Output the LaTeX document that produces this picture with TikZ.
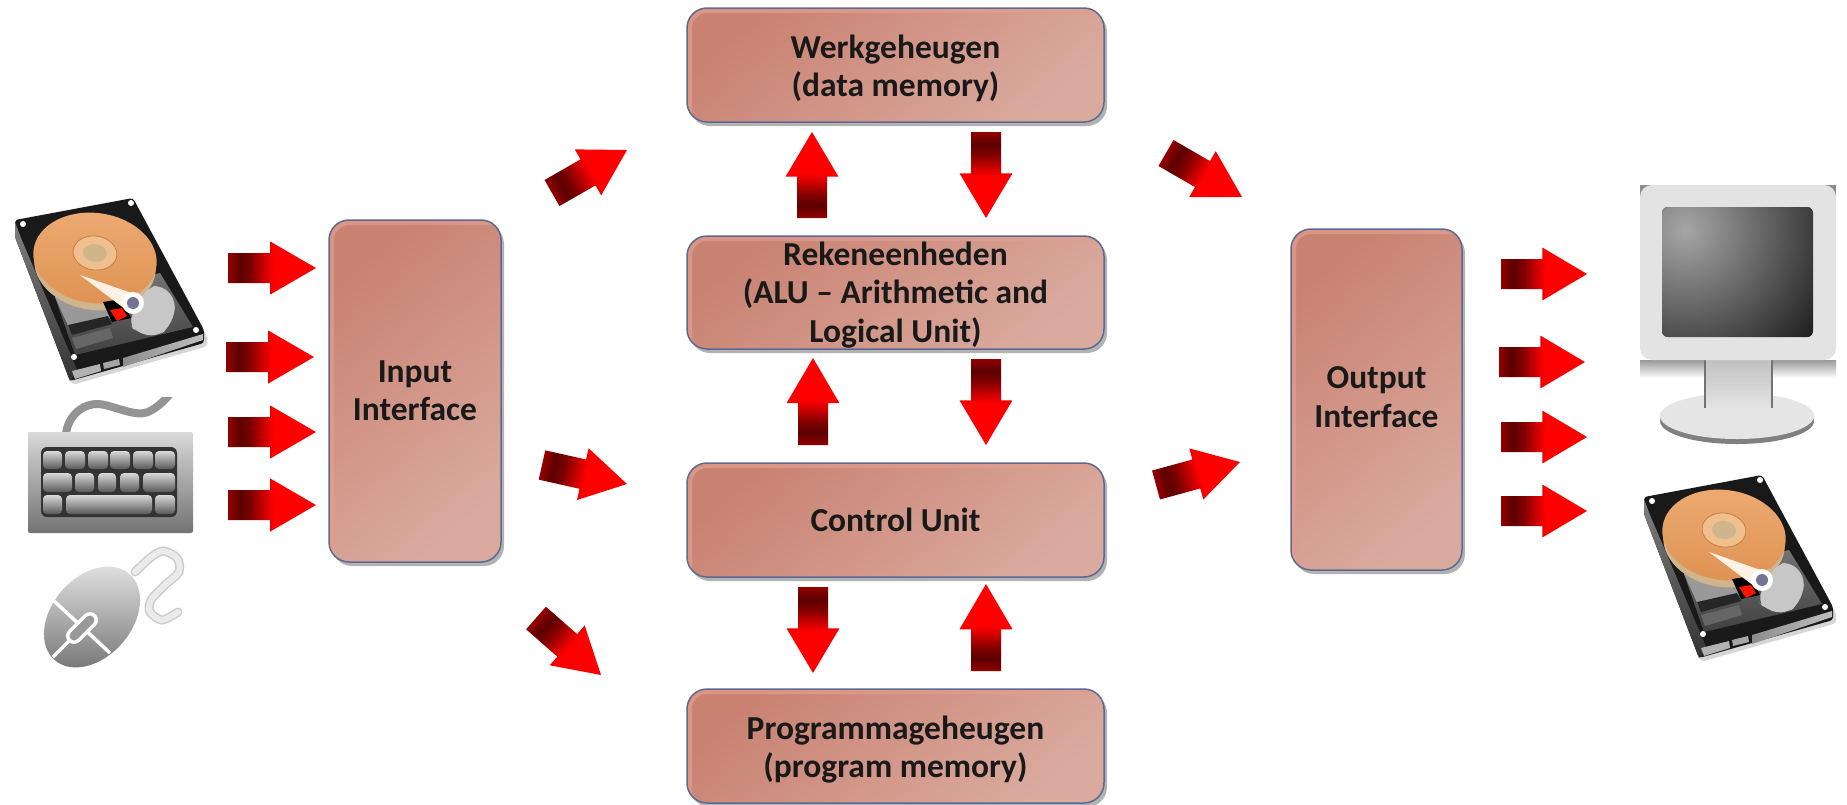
\documentclass[tikz,border=0pt]{standalone}
\usepackage{fontspec}
\setmainfont{Carlito}
\usetikzlibrary{shadows,calc}
\definecolor{boxA}{HTML}{C98272}
\definecolor{boxM}{HTML}{CD8D7D}
\definecolor{boxB}{HTML}{DAAA9E}
\definecolor{boxE}{HTML}{5C6A92}
\definecolor{rim}{HTML}{E29E8E}
\definecolor{platA}{HTML}{EDAA72}
\definecolor{platB}{HTML}{DE9252}
\definecolor{spinA}{HTML}{EFC08E}
\definecolor{spinB}{HTML}{CFB48C}
\definecolor{spinE}{HTML}{C87C40}
\pgfdeclarehorizontalshading{arrowgrad}{100bp}{color(0bp)=(red!58!black); color(25bp)=(red!58!black); color(32bp)=(red!36!black); color(38bp)=(red!50!black); color(46bp)=(red!82!black); color(51bp)=(red); color(100bp)=(red)}
\newcommand{\redarrow}[4]{%
  \pgfmathsetmacro{\arAng}{atan2(-(#4-#2),#3-#1)}%
  \pgfmathsetmacro{\arLen}{veclen(#3-#1,#4-#2)}%
  \pgfmathsetmacro{\arNeck}{\arLen*0.48}%
  \begin{scope}[transform canvas={shift={(#1,#2)},rotate=\arAng}]
    \shade[shading=arrowgrad] (0,-15)--(\arNeck,-15)--(\arNeck,-26.5)--(\arLen,0)--(\arNeck,26.5)--(\arNeck,15)--(0,15)--cycle;
  \end{scope}}
\newcommand{\hdd}[2]{%
  \begin{scope}[shift={(#1,#2)}]
    \fill[black!45,opacity=.35,rounded corners=4] (17,240)--(72,385)--(208,346)--(206,332)--cycle;
    \fill[black!90,rounded corners=3] (15,220)--(133,198)--(204,330)--(204,343)--(70,381)--(15,237)--cycle;
    \shade[top color=black!50,bottom color=black!80] (15,222)--(21,238)--(78,372)--(70,381)--(15,237)--cycle;
    \shade[top color=black!55,bottom color=black!75] (55,297)--(160,273)--(193,327)--(75,355)--cycle;
    \fill[black!40] (55,297)--(100,290)--(110,318)--(70,330)--cycle;
    \fill[black!85] (68,325)--(108,316)--(112,324)--(72,335)--cycle;
    \fill[black!60] (72,338)--(110,328)--(113,338)--(76,349)--cycle;
    \fill[black!30] (72,371)--(100,364)--(101,371)--(75,379)--cycle;
    \fill[black!35] (103,363)--(119,359)--(120,365)--(104,369)--cycle;
    \shade[left color=black!45,right color=black!25] (123,358)--(203,334)--(203,340)--(123,367)--cycle;
    \fill[spinB] (95,265) ellipse [x radius=61,y radius=45,rotate=-8];
    \shade[top color=platA,bottom color=platB] (95,258) ellipse [x radius=62,y radius=45,rotate=-8];
    \fill[spinA,draw=spinE,line width=.8pt] (95,253) ellipse [x radius=22,y radius=17,rotate=-8];
    \fill[spinB] (95,253) ellipse [x radius=12,y radius=9,rotate=-8];
    \fill[black!22,rounded corners=10] (128,323)--(147,287)--(163,285)--(177,303)--(170,327)--(157,337)--(137,333)--cycle;
    \fill[black] (103,302)--(122,299)--(131,318)--(112,322)--cycle;
    \fill[red!85!orange] (110,310)--(122,308)--(127,316)--(117,321)--cycle;
    \fill[white!90!orange] (80,275)--(140,296)--(125,309)--cycle;
    \fill[white] (133,303) circle [radius=11];
    \fill[blue!25!black!55] (133,303) circle [radius=6];
    \foreach \hx/\hy in {23/224,131/203,196/330,74/357} {\fill[white] (\hx,\hy) circle [radius=3];}
  \end{scope}}
\tikzset{
  cpubox/.style={draw=boxE,line width=1.5pt,rounded corners=20pt,shading=axis,left color=boxA,middle color=boxM,right color=boxB,shading angle=40,
    drop shadow={shadow xshift=3pt,shadow yshift=-4pt,opacity=.3,fill=black},
    path picture={\draw[rim,opacity=.7,line width=10pt,rounded corners=20pt]
      (path picture bounding box.south west) -- (path picture bounding box.north west) -- (path picture bounding box.north east);},
    align=center,inner sep=0pt,text=black!90,
    font=\fontsize{33.5}{38.5}\selectfont\bfseries},
  keycap/.style={rounded corners=4pt,top color=black!15,bottom color=black!65}
}
\begin{document}
\begin{tikzpicture}[x=1pt,y=-1pt]
\useasboundingbox (0,0) rectangle (1847,804);
\fill[white] (0,0) rectangle (1847,804);
% boxes
\node[cpubox,minimum width=417pt,minimum height=114pt] (werk) at (895.5,65) {\rule{0pt}{30pt}Werkgeheugen\\(data memory)};
\node[cpubox,minimum width=417pt,minimum height=113pt] (alu) at (895.5,292.5) {\rule{0pt}{28.5pt}Rekeneenheden\\(ALU -- Arithmetic and\\Logical Unit)};
\node[cpubox,minimum width=417pt,minimum height=114pt] (ctrl) at (895.5,520) {Control Unit};
\node[cpubox,minimum width=417pt,minimum height=114pt] (prog) at (895.5,746) {\rule{0pt}{31pt}Programmageheugen\\(program memory)};
\node[cpubox,minimum width=172pt,minimum height=342pt] (inp) at (415,391) {Input\\Interface};
\node[cpubox,minimum width=171pt,minimum height=341pt] (outp) at (1376.5,399.5) {Output\\\rule[-5pt]{0pt}{5pt}Interface};
% arrows
\redarrow{228}{268}{316}{268}
\redarrow{226}{357}{314}{357}
\redarrow{228}{432}{316}{432}
\redarrow{228}{505}{316}{505}
\redarrow{1501}{274}{1587}{274}
\redarrow{1499}{362}{1585}{362}
\redarrow{1501}{437}{1587}{437}
\redarrow{1501}{511}{1587}{511}
\redarrow{812}{218}{812}{132}
\redarrow{986}{132}{986}{218}
\redarrow{813}{445}{813}{358}
\redarrow{986}{359}{986}{445}
\redarrow{813}{587}{813}{673}
\redarrow{986}{671}{986}{584}
\redarrow{552}{193}{627}{150}
\redarrow{542}{465}{627}{484}
\redarrow{536}{618}{601}{675}
\redarrow{1166}{153}{1242}{197}
\redarrow{1156}{485}{1240}{462}
% disks
\hdd{0}{0}
\hdd{1629}{277}
% keyboard
\begin{scope}
  \clip (0,397) rectangle (230,540);
  \draw[black!42,line width=8pt,line cap=round] (66,434) .. controls (68,415) and (85,400) .. (105,405) .. controls (125,410) and (140,418) .. (152,410) .. controls (160,405) and (165,400) .. (170,394);
\end{scope}
\shade[top color=black!15,bottom color=black!55,rounded corners=2pt] (28,432) rectangle (193,533);
\fill[black!80,rounded corners=6pt] (41,447) rectangle (177,517);
\foreach \ka/\kb in {43/62,65/85,88/108,110/130,133/153,155/175} {\shade[keycap] (\ka,451) rectangle (\kb,469);}
\foreach \ka/\kb in {43/72,75/94,98/116,120/139,143/175} {\shade[keycap] (\ka,473) rectangle (\kb,492);}
\foreach \ka/\kb in {43/62,66/152,155/175} {\shade[keycap] (\ka,495) rectangle (\kb,514);}
% mouse
\draw[black!20,line width=9pt,line cap=round] plot[smooth] coordinates {(135,572)(150,558)(163,551)(177,558)(179,572)(165,585)(151,600)(150,612)(162,620)(178,612)};
\draw[black!8,line width=6pt,line cap=round] plot[smooth] coordinates {(135,572)(150,558)(163,551)(177,558)(179,572)(165,585)(151,600)(150,612)(162,620)(178,612)};
\shade[top color=black!10,bottom color=black!55] (92,617) ellipse [x radius=57,y radius=40,rotate=49];
\draw[white,line width=3.5pt] (53,600) -- (110,653);
\draw[white,line width=3.5pt] (53,657) -- (93,617);
\draw[white,line width=16pt,line cap=round] (74,636) -- (90,620);
\draw[black!40,line width=9pt,line cap=round] (74,636) -- (90,620);
% monitor
\shade[top color=black!40,bottom color=white] (1640,360) rectangle (1836,378);
\fill[black!45] (1640,185) rectangle (1660,200);
\fill[black!45] (1816,185) rectangle (1836,200);
\fill[black!50] (1737,421) ellipse [x radius=77,y radius=23];
\fill[black!10] (1737,416) ellipse [x radius=77,y radius=23];
\shade[top color=black!25,bottom color=black!10] (1705,358) rectangle (1772,410);
\draw[black!55,line width=1.6pt] (1705,360) -- (1705,408);
\draw[black!55,line width=1.6pt] (1772,360) -- (1772,408);
\fill[black!11,rounded corners=12pt] (1640,185) rectangle (1836,360);
\begin{scope}
  \clip[rounded corners=6pt] (1662,207) rectangle (1813,337);
  \fill[black!85] (1662,207) rectangle (1813,337);
  \shade[inner color=black!35,outer color=black!88] (1685,230) circle [radius=165];
\end{scope}
\end{tikzpicture}
\end{document}
